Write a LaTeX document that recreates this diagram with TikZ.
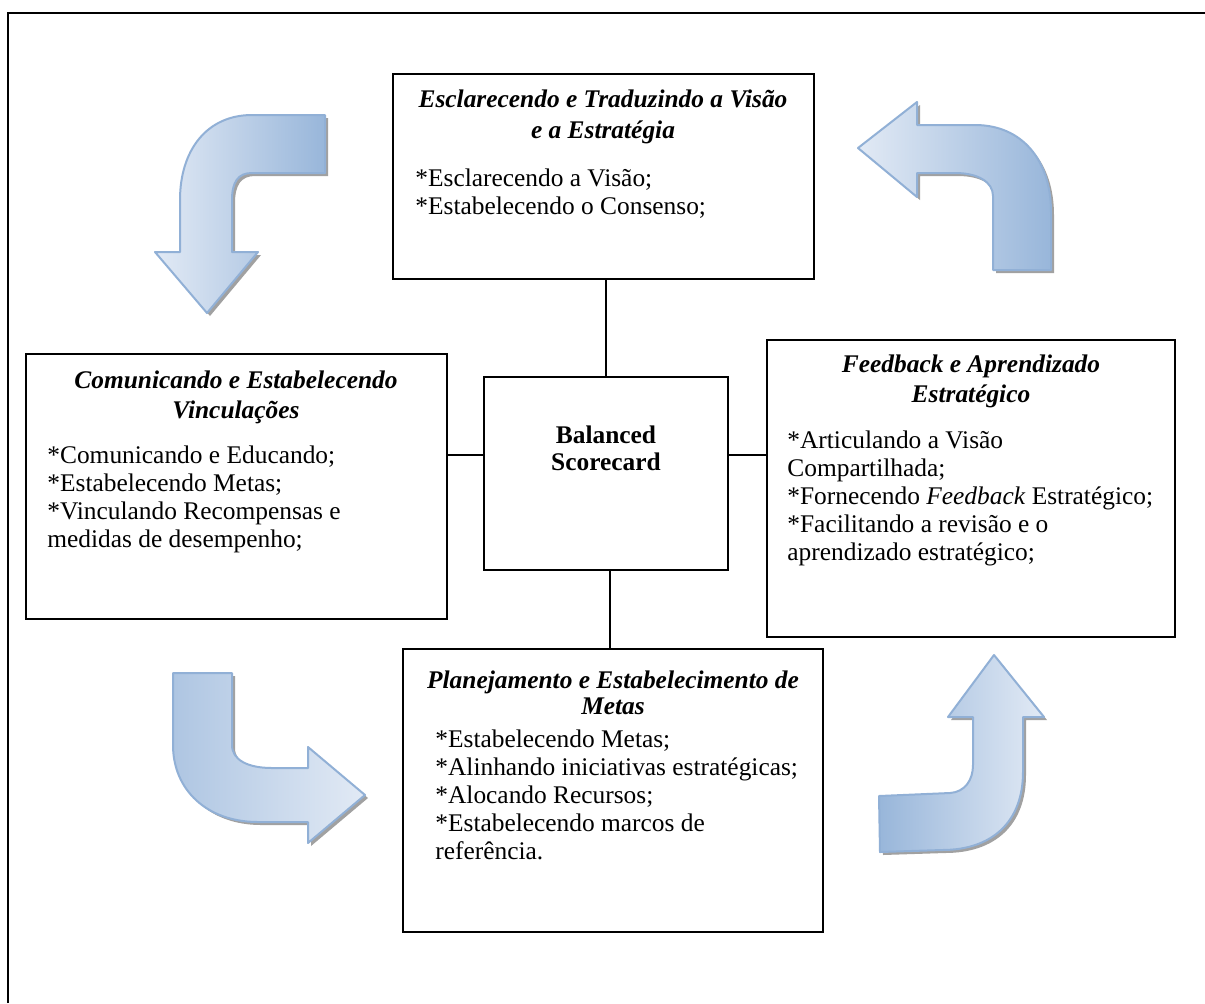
\documentclass[tikz,border=0pt]{standalone}
\usepackage{fontspec}
\setmainfont{Liberation Serif}
\usetikzlibrary{fit}
\definecolor{alight}{RGB}{226,234,245}
\definecolor{adark}{RGB}{152,182,218}
\definecolor{aline}{RGB}{145,176,214}
\definecolor{ashadow}{RGB}{110,110,110}
\tikzset{
  frameline/.style={line width=1pt},
  box/.style={draw, line width=0.75pt, inner sep=0pt},
  link/.style={line width=0.75pt},
  ttl/.style={anchor=base, inner sep=0pt, font=\fontsize{12.7}{15}\selectfont\bfseries\itshape},
  bdy/.style={anchor=base west, inner sep=0pt, font=\fontsize{12.7}{15}\selectfont},
  bsc/.style={anchor=base, inner sep=0pt, font=\fontsize{12.7}{15}\selectfont\bfseries},
  barrow/.style={draw=aline, line width=1pt, line join=round},
  ashd/.style={fill=ashadow!65, shift={(3,3)}},
}
\def\pathA{(325,115) -- (252,115) .. controls (207,115) and (180,150) .. (180,200) -- (180,252) -- (155,252) -- (207,313) -- (258,252) -- (232,252) -- (232,200) .. controls (232,182) and (238,173) .. (252,173) -- (325,173) -- cycle}
\def\pathB{(858,148) -- (917,102) -- (917,125) -- (975,125) .. controls (1022,125) and (1051,160) .. (1051,212) -- (1051,270) -- (993,270) -- (993,196) .. controls (993,182) and (978,173) .. (955,173) -- (917,173) -- (917,197) -- cycle}
\def\pathC{(173,673) -- (232,673) -- (232,745) .. controls (232,760) and (248,768) .. (272,768) -- (308,768) -- (308,747) -- (365,795) -- (308,843) -- (308,822) -- (258,822) .. controls (207,822) and (173,790) .. (173,745) -- cycle}
\def\pathD{(994,655) -- (1044,717) -- (1023,717) -- (1023,772) .. controls (1023,822) and (992,850) .. (942,850) -- (880,852) -- (879,796) -- (950,793) .. controls (965,792) and (973,780) .. (973,765) -- (973,717) -- (948,717) -- cycle}
\begin{document}
\begin{tikzpicture}[x=0.5pt,y=-0.5pt]
\useasboundingbox (0,0) rectangle (1205,1003);
\fill[white] (0,0) rectangle (1205,1003);
% outer frame
\draw[frameline] (8,1003) -- (8,13) -- (1205,13);

% curved arrows
\fill[ashd] \pathA;
\draw[barrow, left color=alight, right color=adark] \pathA;
\fill[ashd] \pathB;
\draw[barrow, left color=alight, right color=adark] \pathB;
\fill[ashd] \pathC;
\draw[barrow, left color=adark!70!alight, right color=alight] \pathC;
\fill[ashd] \pathD;
\draw[barrow, left color=adark, right color=alight] \pathD;

% boxes
\node[box, fit={(393,74) (814,279)}] (T) {};
\node[box, fit={(484,377) (728,570)}] (BS) {};
\node[box, fit={(26,354) (447,619)}] (L) {};
\node[box, fit={(767,340) (1175,637)}] (R) {};
\node[box, fit={(403,649) (823,932)}] (B) {};

% connector helpers
\coordinate (hy) at (0,455);
\coordinate (tx) at (606,0);
\coordinate (bx) at (610,0);
\draw[link] (T.south -| tx) -- (BS.north -| tx);
\draw[link] (L.east |- hy) -- (BS.west |- hy);
\draw[link] (BS.east |- hy) -- (R.west |- hy);
\draw[link] (BS.south -| bx) -- (B.north -| bx);

% top box text
\node[ttl] (t1) at (603,107) {Esclarecendo e Traduzindo a Visão};
\node[ttl] (t2) at (603,138) {e a Estratégia};
\node[bdy] (t3) at (415,186) {*Esclarecendo a Visão;};
\node[bdy] (t4) at (415,214) {*Estabelecendo o Consenso;};

% balanced scorecard
\node[bsc] (s1) at (606,443) {Balanced};
\node[bsc] (s2) at (606,470) {Scorecard};

% left box text
\node[ttl] (l1) at (236,388) {Comunicando e Estabelecendo};
\node[ttl] (l2) at (236,418) {Vinculações};
\node[bdy] (l3) at (47,463) {*Comunicando e Educando;};
\node[bdy] (l4) at (47,491) {*Estabelecendo Metas;};
\node[bdy] (l5) at (47,519) {*Vinculando Recompensas e};
\node[bdy] (l6) at (47,547) {medidas de desempenho;};

% right box text
\node[ttl] (r1) at (971,372) {Feedback e Aprendizado};
\node[ttl] (r2) at (971,402) {Estratégico};
\node[bdy] (r3) at (787,448) {*Articulando a Visão};
\node[bdy] (r4) at (787,476) {Compartilhada;};
\node[bdy] (r5) at (787,504) {*Fornecendo \textit{Feedback} Estratégico;};
\node[bdy] (r6) at (787,532) {*Facilitando a revisão e o};
\node[bdy] (r7) at (787,560) {aprendizado estratégico;};

% bottom box text
\node[ttl] (b1) at (613,688) {Planejamento e Estabelecimento de};
\node[ttl] (b2) at (613,714) {Metas};
\node[bdy] (b3) at (435,747) {*Estabelecendo Metas;};
\node[bdy] (b4) at (435,775) {*Alinhando iniciativas estratégicas;};
\node[bdy] (b5) at (435,803) {*Alocando Recursos;};
\node[bdy] (b6) at (435,831) {*Estabelecendo marcos de};
\node[bdy] (b7) at (435,859) {referência.};
\end{tikzpicture}
\end{document}
